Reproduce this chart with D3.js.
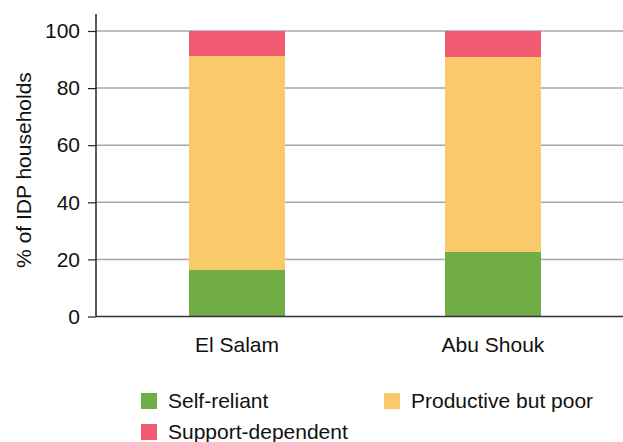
<!DOCTYPE html>
<html>
<head>
<meta charset="utf-8">
<script src="https://cdn.jsdelivr.net/npm/d3@7"></script>
<style>
  html, body { margin: 0; padding: 0; background: #fff; }
  svg { display: block; font-family: "Liberation Sans", Arial, Helvetica, sans-serif; }
</style>
</head>
<body>
<svg id="chart" width="623" height="442"></svg>
<script>
// Livelihood groups of IDP households by camp (% of households)
const camps = ["El Salam", "Abu Shouk"];
const groups = ["Self-reliant", "Productive but poor", "Support-dependent"];
const selfReliant = [16.3, 22.6];
const productivePoor = [74.9, 68.3];
const supportDependent = [8.8, 9.1];
const yTicks = [0, 20, 40, 60, 80, 100];
const groupColors = ["#70ad47", "#f9ca6a", "#f05b72"];

const rows = camps.map((c, i) => ({
  camp: c,
  "Self-reliant": selfReliant[i],
  "Productive but poor": productivePoor[i],
  "Support-dependent": supportDependent[i]
}));

const svg = d3.select("#chart");
const margin = { left: 96, right: 0, top: 31, bottom: 125.5 };
const plotW = 623 - margin.left - margin.right;
const plotH = 442 - margin.top - margin.bottom;
const fs = 21;

// category band spans a little past the drawn area so bars sit where they belong
const x = d3.scaleBand().domain(camps).range([0, 538]).paddingInner(0.625).paddingOuter(0.3633);
const y = d3.scaleLinear().domain([0, 100]).range([plotH, 0]);
const color = d3.scaleOrdinal().domain(groups).range(groupColors);

const g = svg.append("g").attr("transform", `translate(${margin.left},${margin.top})`);

// horizontal gridlines
g.append("g").selectAll("line").data(yTicks.filter(t => t > 0)).join("line")
  .attr("x1", 0).attr("x2", plotW)
  .attr("y1", d => y(d)).attr("y2", d => y(d))
  .attr("stroke", "#a8a8a8").attr("stroke-width", 1.5);

// stacked bars
const stacked = d3.stack().keys(groups)(rows);
g.append("g").selectAll("g").data(stacked).join("g")
  .attr("fill", d => color(d.key))
  .selectAll("rect").data(d => d).join("rect")
  .attr("x", d => x(d.data.camp))
  .attr("width", x.bandwidth())
  .attr("y", d => y(d[1]))
  .attr("height", d => y(d[0]) - y(d[1]));

// y axis
const yAxis = g.append("g")
  .call(d3.axisLeft(y).tickValues(yTicks).tickSize(8).tickPadding(8).tickFormat(d3.format("d")));
yAxis.select(".domain").remove();
yAxis.selectAll(".tick line").attr("stroke", "#222").attr("stroke-width", 1.2);
yAxis.selectAll("text").attr("font-size", fs).attr("fill", "#111").attr("font-family", "Liberation Sans, Arial, sans-serif");
g.append("line").attr("x1", 0).attr("x2", 0).attr("y1", -17).attr("y2", plotH)
  .attr("stroke", "#222").attr("stroke-width", 1.5);

// baseline
g.append("line").attr("x1", 0).attr("x2", plotW).attr("y1", plotH).attr("y2", plotH)
  .attr("stroke", "#333").attr("stroke-width", 1.5);

// category labels
g.append("g").selectAll("text").data(camps).join("text")
  .attr("x", d => x(d) + x.bandwidth() / 2)
  .attr("y", plotH + 35.5)
  .attr("text-anchor", "middle")
  .attr("font-size", fs).attr("fill", "#111")
  .text(d => d);

// y axis title
svg.append("text")
  .attr("transform", `translate(31,170) rotate(-90)`)
  .attr("text-anchor", "middle")
  .attr("font-size", fs).attr("fill", "#111")
  .text("% of IDP households");

// legend
const legendPos = [[141, 393], [384, 393], [141, 424]];
const legend = svg.append("g").selectAll("g").data(groups).join("g")
  .attr("transform", (d, i) => `translate(${legendPos[i][0]},${legendPos[i][1]})`);
legend.append("rect").attr("width", 16).attr("height", 16).attr("fill", d => color(d));
legend.append("text").attr("x", 27).attr("y", 14.5)
  .attr("font-size", fs).attr("fill", "#111")
  .text(d => d);
</script>
</body>
</html>
